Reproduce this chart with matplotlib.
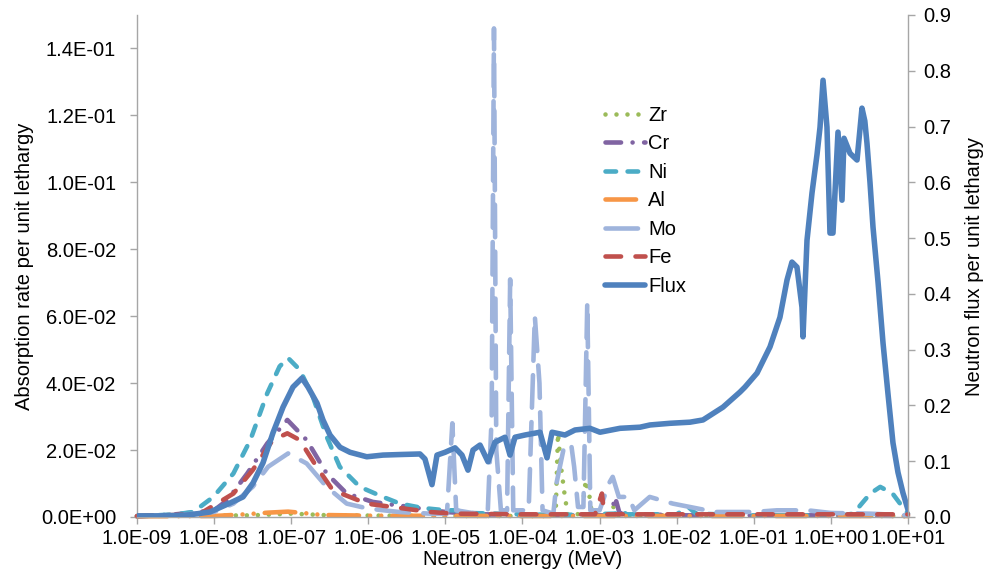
import numpy as np
import matplotlib
matplotlib.use("Agg")
import matplotlib.pyplot as plt
from matplotlib.ticker import FixedLocator, FuncFormatter

plt.rcParams['font.family'] = ['Liberation Sans', 'DejaVu Sans']
plt.rcParams['lines.scale_dashes'] = False

# ---- data: log10(energy / MeV) and values ----
zr_logE = [-9.0, -7.5, -7.0, -6.5, -5.0, -3.62, -3.57, -3.54, -3.50, -3.45, -3.41,
           -3.23, -3.18, -3.13, -3.10, -2.87, -2.82, -2.78, 1.0]
zr_val = [0.0003, 0.0005, 0.001, 0.0005, 0.0003, 0.0003, 0.0005, 0.025, 0.015, 0.006, 0.0005,
          0.001, 0.011, 0.006, 0.001, 0.0005, 0.003, 0.0005, 0.0003]

cr_logE = [-9.0, -8.5, -8.0, -7.83, -7.57, -7.31, -7.05, -6.80, -6.54, -6.28, -5.94,
           -5.37, -5.0, -4.5, -3.5, -2.85, -2.80, -2.74, -2.0, 0.0, 1.0]
cr_val = [0.0002, 0.0008, 0.002, 0.005, 0.013, 0.022, 0.029, 0.023, 0.013, 0.007, 0.0045,
          0.0027, 0.0015, 0.0008, 0.0005, 0.0005, 0.006, 0.001, 0.0005, 0.0005, 0.0003]

ni_logE = [-9.0, -8.5, -8.27, -8.01, -7.75, -7.53, -7.31, -7.15, -7.04, -6.89, -6.72,
           -6.54, -6.37, -6.11, -5.81, -5.59, -5.30, -5.0, -4.87, -4.7, -4.0, -3.5,
           -2.8, -2.72, -2.65, -2.0, -1.85, -1.75, -1.0, -0.3, 0.15, 0.29, 0.40,
           0.51, 0.64, 0.80, 0.93, 1.0]
ni_val = [0.0002, 0.0008, 0.0015, 0.006, 0.013, 0.023, 0.037, 0.045, 0.0475, 0.044, 0.036,
          0.024, 0.015, 0.009, 0.006, 0.004, 0.0027, 0.002, 0.002, 0.0012, 0.0008, 0.0006,
          0.001, 0.002, 0.0008, 0.0008, 0.003, 0.001, 0.0005, 0.0005, 0.0005, 0.001, 0.004,
          0.007, 0.009, 0.007, 0.003, 0.001]

al_logE = [-9.0, -8.0, -7.6, -7.3, -7.04, -6.85, -6.6, -6.0, -4.0, -2.0, 1.0]
al_val = [0.0002, 0.0003, 0.0008, 0.0013, 0.0016, 0.0012, 0.0006, 0.0004, 0.0003, 0.0003, 0.0003]

mo_logE = [-9.0, -8.5, -8.0, -7.75, -7.5, -7.3, -7.04, -6.8, -6.54, -6.28, -6.0, -5.6,
           -5.2, -4.98, -4.91, -4.86, -4.6, -4.45, -4.40, -4.37, -4.34, -4.28,
           -4.20, -4.16, -4.12, -3.92, -3.84, -3.78, -3.74, -3.60, -3.56, -3.47,
           -3.37, -3.33, -3.28, -3.21, -3.16, -3.12, -3.0, -2.88, -2.83, -2.75,
           -2.62, -2.55, -2.35, -2.05, -1.83, -1.5, -1.0, -0.7, -0.3, 0.0, 0.5, 1.0]
mo_val = [0.0003, 0.0005, 0.0015, 0.004, 0.009, 0.015, 0.019, 0.016, 0.009, 0.004, 0.0025, 0.0015,
          0.001, 0.001, 0.028, 0.002, 0.001, 0.002, 0.03, 0.146, 0.02, 0.002,
          0.002, 0.071, 0.002, 0.002, 0.060, 0.040, 0.002, 0.001, 0.010, 0.020,
          0.022, 0.015, 0.003, 0.003, 0.064, 0.002, 0.002, 0.010, 0.012, 0.006,
          0.006, 0.002, 0.006, 0.004, 0.003, 0.0015, 0.0015, 0.002, 0.002, 0.0012, 0.001, 0.0005]

fe_logE = [-9.0, -8.5, -8.18, -7.75, -7.50, -7.24, -7.05, -6.89, -6.67, -6.46, -6.02,
           -5.59, -5.2, -4.9, -4.0, -3.06, -2.97, -2.94, -2.0, 0.0, 1.0]
fe_val = [0.0003, 0.0006, 0.001, 0.007, 0.014, 0.023, 0.025, 0.023, 0.015, 0.008, 0.004,
          0.0027, 0.0015, 0.001, 0.0008, 0.0008, 0.007, 0.0008, 0.0008, 0.0008, 0.0008]

flux_logE = [-9.0, -8.70, -8.44, -8.313, -8.053, -7.794, -7.625, -7.495, -7.366, -7.236,
             -7.106, -6.977, -6.860, -6.782, -6.665, -6.588, -6.497, -6.367, -6.237,
             -6.02, -5.81, -5.589, -5.33, -5.265, -5.174, -5.109,
             -5.005, -4.875, -4.785, -4.707, -4.642, -4.551, -4.447, -4.357, -4.227,
             -4.162, -4.097, -3.968, -3.773, -3.682, -3.617, -3.449, -3.319, -3.125,
             -2.995, -2.735, -2.476, -2.346, -2.087, -1.827, -1.659, -1.399, -1.179,
             -1.114, -0.958, -0.790, -0.661, -0.569, -0.505, -0.440, -0.375, -0.362,
             -0.310, -0.245, -0.180, -0.141, -0.102,
             -0.051, -0.012, 0.027, 0.092, 0.144, 0.170, 0.248, 0.339, 0.403, 0.440,
             0.468, 0.507, 0.546, 0.612, 0.676, 0.741, 0.805, 0.870, 0.935, 1.0]
flux_val = [0.002, 0.002, 0.003, 0.004, 0.009, 0.025, 0.036, 0.061, 0.097, 0.151,
            0.197, 0.233, 0.249, 0.233, 0.204, 0.174, 0.147, 0.125, 0.116,
            0.108, 0.111, 0.112, 0.113, 0.104, 0.058, 0.111,
            0.116, 0.124, 0.111, 0.084, 0.120, 0.129, 0.099, 0.134, 0.143,
            0.111, 0.143, 0.147, 0.152, 0.106, 0.152, 0.147, 0.156, 0.159,
            0.152, 0.159, 0.161, 0.165, 0.168, 0.170, 0.174, 0.197, 0.224,
            0.233, 0.258, 0.305, 0.358, 0.425, 0.457, 0.448, 0.376, 0.323,
            0.496, 0.581, 0.650, 0.699, 0.783,
            0.699, 0.509, 0.509, 0.690, 0.568, 0.679, 0.652, 0.640, 0.733, 0.710,
            0.670, 0.600, 0.520, 0.420, 0.312, 0.220, 0.133, 0.080, 0.043, 0.013]

x_ticks = [1e-9, 1e-8, 1e-7, 1e-6, 1e-5, 1e-4, 1e-3, 1e-2, 1e-1, 1e0, 1e1]
left_ticks = [0.0, 0.02, 0.04, 0.06, 0.08, 0.10, 0.12, 0.14]
right_ticks = [0.0, 0.1, 0.2, 0.3, 0.4, 0.5, 0.6, 0.7, 0.8, 0.9]

# ---- figure ----
W, H = 987, 571
fig = plt.figure(figsize=(W / 100, H / 100), dpi=100)
ax = fig.add_axes([137 / W, 1 - 517 / H, (908 - 137) / W, (517 - 15) / H])
ax2 = ax.twinx()

FS = 14.5
lw = 3.3
species = [
    ("Zr", zr_logE, zr_val, "#9BBB59", (0, (0.01, 7.9))),
    ("Cr", cr_logE, cr_val, "#8064A2", (0, (11.2, 8.3, 0.01, 8.3))),
    ("Ni", ni_logE, ni_val, "#4BACC6", (0, (7.6, 8.3))),
    ("Al", al_logE, al_val, "#F79646", (0, (22, 8, 0.01, 8, 0.01, 8))),
    ("Mo", mo_logE, mo_val, "#9FB4DC", (0, (23.4, 10.4))),
    ("Fe", fe_logE, fe_val, "#C0504D", (0, (11.2, 10.4))),
]
handles = []
for name, le, v, c, ls in species:
    h, = ax.plot(10 ** np.array(le), v, color=c, lw=lw, linestyle=ls,
                 dash_capstyle='round', solid_capstyle='round', solid_joinstyle='round',
                 label=name, clip_on=False)
    handles.append(h)

hf, = ax2.plot(10 ** np.array(flux_logE), flux_val, color="#4F81BD", lw=4.0,
               solid_capstyle='round', solid_joinstyle='round', label="Flux")
handles.append(hf)

ax.set_xscale('log')
ax.set_xlim(1e-9, 1e1)
ax.set_ylim(0, 0.15)
ax2.set_ylim(0, 0.9)

ax.xaxis.set_major_locator(FixedLocator(x_ticks))
ax.xaxis.set_minor_locator(FixedLocator([]))
ax.xaxis.set_major_formatter(FuncFormatter(lambda v, p: "%.1E" % v))
ax.yaxis.set_major_locator(FixedLocator(left_ticks))
ax.yaxis.set_major_formatter(FuncFormatter(lambda v, p: "%.1E" % v))
ax2.yaxis.set_major_locator(FixedLocator(right_ticks))
ax2.yaxis.set_major_formatter(FuncFormatter(lambda v, p: "%.1f" % v))

spine_c = "#A6A6A6"
for a in (ax, ax2):
    for s in a.spines.values():
        s.set_color(spine_c)
        s.set_linewidth(1.0)
    a.spines['top'].set_visible(False)
ax.spines['right'].set_visible(False)
ax2.spines['left'].set_visible(False)
ax2.spines['bottom'].set_visible(False)

ax.tick_params(axis='both', which='major', length=5, width=1.0, color=spine_c,
               labelsize=FS, direction='out')
ax.tick_params(axis='y', pad=10)
ax.tick_params(axis='x', pad=4)
ax2.tick_params(axis='y', length=5, width=1.0, color=spine_c, labelsize=FS, pad=6)

ax.set_xlabel("Neutron energy (MeV)", fontsize=FS, labelpad=1)
ax.set_ylabel("Absorption rate per unit lethargy", fontsize=FS, labelpad=5)
ax2.set_ylabel("Neutron flux per unit lethargy", fontsize=FS, labelpad=10)

leg = fig.legend(handles=handles, labels=[h.get_label() for h in handles],
                 loc='upper left', bbox_to_anchor=(605 / W, 1 - 106 / H),
                 frameon=False, fontsize=FS, handlelength=2.0, handletextpad=0.15,
                 labelspacing=0.47, borderpad=0, borderaxespad=0)

fig.savefig("out.png", dpi=100)
